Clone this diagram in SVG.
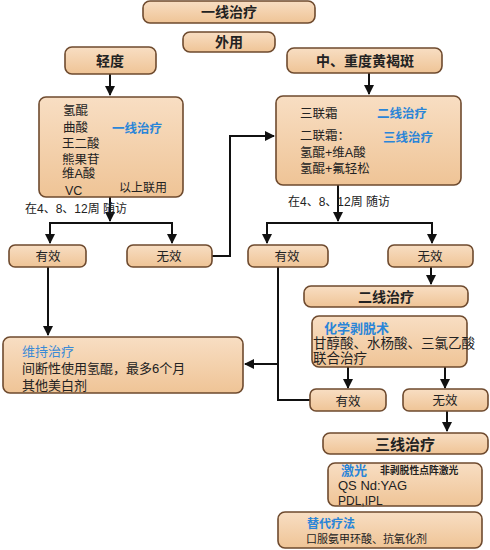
<svg xmlns="http://www.w3.org/2000/svg" width="490" height="550" viewBox="0 0 490 550">
<defs>
<linearGradient id="g" x1="0" y1="0" x2="0" y2="1">
<stop offset="0" stop-color="#f8dec3"/>
<stop offset="1" stop-color="#efc496"/>
</linearGradient>
<marker id="ah" viewBox="0 0 10 10" refX="9" refY="5" markerWidth="5" markerHeight="5" orient="auto" markerUnits="strokeWidth">
<path d="M0,0 L10,5 L0,10 z" fill="#111"/>
</marker>
<style>
.b{fill:url(#g);stroke:#6e4a2e;stroke-width:1.6}
.t{font-family:"Liberation Sans","Noto Sans CJK SC",sans-serif;font-size:12.5px;fill:#222}
.h{font-family:"Liberation Sans","Noto Sans CJK SC",sans-serif;font-size:14px;font-weight:bold;fill:#222;text-anchor:middle}
.c{text-anchor:middle}
.bl{fill:#2a85d8;font-weight:bold}
.bl2{fill:#3a8ad6}
.l{fill:none;stroke:#111;stroke-width:2}
.a{marker-end:url(#ah)}
</style>
</defs>
<rect width="490" height="550" fill="#fff"/>

<g id="connectors">
<path class="l a" d="M110,74 V95"/>
<path class="l a" d="M369,73 V94"/>
<path class="l a" d="M110,197 V221"/>
<path class="l a" d="M50,223 H172 M50,222 V243"/>
<path class="l a" d="M172,222 V243"/>
<path class="l a" d="M212,256 H230 V136 H274"/>
<path class="l a" d="M48,267 V335"/>
<path class="l a" d="M338,185 V221"/>
<path class="l a" d="M267,223 H432 M267,222 V243"/>
<path class="l a" d="M432,222 V243"/>
<path class="l a" d="M431,267 V284"/>
<path class="l" d="M278,267 V400 H310"/>
<path class="l a" d="M278,364 H245"/>
<path class="l a" d="M348,367 V388"/>
<path class="l a" d="M445,367 V388"/>
<path class="l a" d="M447,411 V431"/>
</g>

<g id="n-top"><rect class="b" x="143" y="1" width="172" height="22" rx="7"/><text class="h" x="229" y="17">一线治疗</text></g>
<g id="n-waiyong"><rect class="b" x="183" y="32" width="92" height="20" rx="7"/><text class="h" x="229" y="47">外用</text></g>
<g id="n-qingdu"><rect class="b" x="65" y="47" width="91" height="27" rx="7"/><text class="h" x="110" y="66">轻度</text></g>
<g id="n-zhong"><rect class="b" x="287" y="48" width="155" height="25" rx="7"/><text class="h" x="365" y="66">中、重度黄褐斑</text></g>

<g id="n-left">
<rect class="b" x="39" y="97" width="144" height="100" rx="7"/>
<text class="t" x="63" y="115">氢醌</text>
<text class="t" x="63" y="132">曲酸</text>
<text class="t" x="62" y="148">王二酸</text>
<text class="t" x="62" y="164">熊果苷</text>
<text class="t" x="62" y="178">维A酸</text>
<text class="t" x="65" y="195">VC</text>
<text class="t bl" x="112" y="133">一线治疗</text>
<text class="t" x="119" y="192" style="font-size:12px">以上联用</text>
</g>

<g id="n-right">
<rect class="b" x="276" y="96" width="185" height="89" rx="7"/>
<text class="t" x="300" y="118">三联霜</text>
<text class="t bl" x="377" y="118">二线治疗</text>
<text class="t" x="300" y="140">二联霜：</text>
<text class="t bl" x="383" y="142">三线治疗</text>
<text class="t" x="300" y="157">氢醌+维A酸</text>
<text class="t" x="300" y="173">氢醌+氟轻松</text>
</g>

<text class="t" x="25" y="213" style="font-size:12px">在4、8、12周  随访</text>
<text class="t" x="288" y="206" style="font-size:12px">在4、8、12周  随访</text>

<g id="n-youxiao1"><rect class="b" x="9" y="245" width="77" height="22" rx="6"/><text class="t c" x="48" y="261">有效</text></g>
<g id="n-wuxiao1"><rect class="b" x="127" y="245" width="85" height="22" rx="6"/><text class="t c" x="169" y="261">无效</text></g>
<g id="n-youxiao2"><rect class="b" x="248" y="245" width="80" height="22" rx="6"/><text class="t c" x="287" y="261">有效</text></g>
<g id="n-wuxiao2"><rect class="b" x="388" y="245" width="85" height="22" rx="6"/><text class="t c" x="430" y="261">无效</text></g>

<g id="n-weichi">
<rect class="b" x="3" y="337" width="240" height="56" rx="7"/>
<text class="t bl2" x="22" y="356" style="font-size:13px">维持治疗</text>
<text class="t" x="22" y="373" style="font-size:13px">间断性使用氢醌，最多6个月</text>
<text class="t" x="22" y="390" style="font-size:13px">其他美白剂</text>
</g>

<g id="n-erxian"><rect class="b" x="304" y="286" width="164" height="21" rx="7"/><text class="h" x="386" y="302">二线治疗</text></g>

<g id="n-huaxue">
<rect class="b" x="312" y="316" width="155" height="51" rx="7"/>
<text class="t bl" x="324" y="333" style="font-size:13px">化学剥脱术</text>
<text class="t" x="313" y="348" style="font-size:13.5px">甘醇酸、水杨酸、三氯乙酸</text>
<text class="t" x="313" y="363" style="font-size:13.5px">联合治疗</text>
</g>

<g id="n-youxiao3"><rect class="b" x="310" y="389" width="76" height="22" rx="6"/><text class="t c" x="348" y="406">有效</text></g>
<g id="n-wuxiao3"><rect class="b" x="403" y="389" width="85" height="22" rx="6"/><text class="t c" x="445" y="405">无效</text></g>

<g id="n-sanxian"><rect class="b" x="323" y="433" width="165" height="21" rx="7"/><text class="h" x="405" y="450" style="font-size:15px">三线治疗</text></g>

<g id="n-jiguang">
<rect class="b" x="328" y="463" width="154" height="43" rx="7"/>
<text class="t bl" x="341" y="475" style="font-size:13px">激光</text>
<text class="t" x="380" y="474" style="font-size:9.8px;font-weight:bold">非剥脱性点阵激光</text>
<text class="t" x="338" y="490" style="font-size:13px;font-family:'Liberation Sans Narrow','Liberation Sans',sans-serif">QS Nd:YAG</text>
<text class="t" x="338" y="504.5" style="font-size:12px;font-family:'Liberation Sans Narrow','Liberation Sans',sans-serif">PDL,IPL</text>
</g>

<g id="n-tidai">
<rect class="b" x="278" y="512" width="204" height="36" rx="7"/>
<text class="t bl" x="307" y="528" style="font-size:12px">替代疗法</text>
<text class="t" x="306" y="543" style="font-size:11px">口服氨甲环酸、抗氧化剂</text>
</g>
</svg>
